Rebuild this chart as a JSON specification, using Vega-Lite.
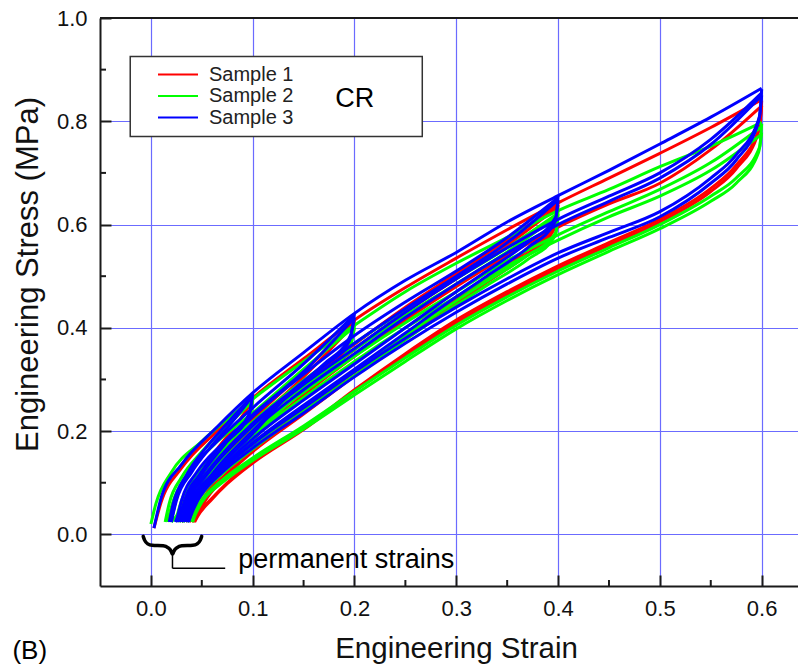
{
"$schema": "https://vega.github.io/schema/vega-lite/v6.json",
"width": 698, "height": 568,
"autosize": {"type": "none"},
"padding": {"left": 100, "top": 18, "right": 0, "bottom": 80},
"background": "white",
"config": {"view": {"stroke": null}, "font": "Liberation Sans"},
"layer": [
{
"data": {"values": [{}]},
"mark": {"type": "rect", "fill": "white", "stroke": "#333333", "strokeWidth": 1.5},
"encoding": {"x": {"datum": -0.0203}, "x2": {"datum": 0.2666}, "y": {"datum": 0.9255}, "y2": {"datum": 0.7706}}
},
{
"data": {"values": [
{"s":"Sample 1","c":"V","x":0.003,"y":0.012},{"s":"Sample 1","c":"V","x":0.01,"y":0.062},{"s":"Sample 1","c":"V","x":0.03,"y":0.128},{"s":"Sample 1","c":"V","x":0.065,"y":0.2},{"s":"Sample 1","c":"V","x":0.1,"y":0.264},{"s":"Sample 1","c":"V","x":0.15,"y":0.34},{"s":"Sample 1","c":"V","x":0.2,"y":0.415},{"s":"Sample 1","c":"V","x":0.25,"y":0.478},{"s":"Sample 1","c":"V","x":0.3,"y":0.535},{"s":"Sample 1","c":"V","x":0.35,"y":0.59},{"s":"Sample 1","c":"V","x":0.4,"y":0.642},{"s":"Sample 1","c":"V","x":0.45,"y":0.69},{"s":"Sample 1","c":"V","x":0.5,"y":0.738},{"s":"Sample 1","c":"V","x":0.55,"y":0.788},{"s":"Sample 1","c":"V","x":0.6,"y":0.842},
{"s":"Sample 1","c":"U1","x":0.1,"y":0.264},{"s":"Sample 1","c":"U1","x":0.097,"y":0.228},{"s":"Sample 1","c":"U1","x":0.08,"y":0.183},{"s":"Sample 1","c":"U1","x":0.06,"y":0.135},{"s":"Sample 1","c":"U1","x":0.045,"y":0.09},{"s":"Sample 1","c":"U1","x":0.035,"y":0.045},{"s":"Sample 1","c":"U1","x":0.03,"y":0.024},
{"s":"Sample 1","c":"R1","x":0.025,"y":0.024},{"s":"Sample 1","c":"R1","x":0.03,"y":0.06},{"s":"Sample 1","c":"R1","x":0.045,"y":0.11},{"s":"Sample 1","c":"R1","x":0.065,"y":0.165},{"s":"Sample 1","c":"R1","x":0.085,"y":0.215},{"s":"Sample 1","c":"R1","x":0.1,"y":0.26},
{"s":"Sample 1","c":"R2","x":0.028,"y":0.024},{"s":"Sample 1","c":"R2","x":0.033,"y":0.062},{"s":"Sample 1","c":"R2","x":0.05,"y":0.115},{"s":"Sample 1","c":"R2","x":0.075,"y":0.17},{"s":"Sample 1","c":"R2","x":0.1,"y":0.222},{"s":"Sample 1","c":"R2","x":0.15,"y":0.315},{"s":"Sample 1","c":"R2","x":0.2,"y":0.412},
{"s":"Sample 1","c":"R2b","x":0.03,"y":0.024},{"s":"Sample 1","c":"R2b","x":0.036,"y":0.06},{"s":"Sample 1","c":"R2b","x":0.052,"y":0.11},{"s":"Sample 1","c":"R2b","x":0.078,"y":0.165},{"s":"Sample 1","c":"R2b","x":0.1,"y":0.212},{"s":"Sample 1","c":"R2b","x":0.15,"y":0.305},{"s":"Sample 1","c":"R2b","x":0.2,"y":0.408},
{"s":"Sample 1","c":"U2","x":0.2,"y":0.415},{"s":"Sample 1","c":"U2","x":0.196,"y":0.372},{"s":"Sample 1","c":"U2","x":0.17,"y":0.32},{"s":"Sample 1","c":"U2","x":0.14,"y":0.265},{"s":"Sample 1","c":"U2","x":0.1,"y":0.182},{"s":"Sample 1","c":"U2","x":0.075,"y":0.13},{"s":"Sample 1","c":"U2","x":0.055,"y":0.08},{"s":"Sample 1","c":"U2","x":0.042,"y":0.04},{"s":"Sample 1","c":"U2","x":0.038,"y":0.024},
{"s":"Sample 1","c":"R4","x":0.034,"y":0.024},{"s":"Sample 1","c":"R4","x":0.04,"y":0.06},{"s":"Sample 1","c":"R4","x":0.055,"y":0.105},{"s":"Sample 1","c":"R4","x":0.1,"y":0.205},{"s":"Sample 1","c":"R4","x":0.15,"y":0.29},{"s":"Sample 1","c":"R4","x":0.2,"y":0.368},{"s":"Sample 1","c":"R4","x":0.25,"y":0.44},{"s":"Sample 1","c":"R4","x":0.3,"y":0.505},{"s":"Sample 1","c":"R4","x":0.35,"y":0.57},{"s":"Sample 1","c":"R4","x":0.4,"y":0.64},
{"s":"Sample 1","c":"U4","x":0.4,"y":0.645},{"s":"Sample 1","c":"U4","x":0.398,"y":0.6},{"s":"Sample 1","c":"U4","x":0.37,"y":0.55},{"s":"Sample 1","c":"U4","x":0.33,"y":0.495},{"s":"Sample 1","c":"U4","x":0.3,"y":0.455},{"s":"Sample 1","c":"U4","x":0.25,"y":0.388},{"s":"Sample 1","c":"U4","x":0.2,"y":0.315},{"s":"Sample 1","c":"U4","x":0.15,"y":0.24},{"s":"Sample 1","c":"U4","x":0.1,"y":0.165},{"s":"Sample 1","c":"U4","x":0.075,"y":0.12},{"s":"Sample 1","c":"U4","x":0.055,"y":0.072},{"s":"Sample 1","c":"U4","x":0.045,"y":0.04},{"s":"Sample 1","c":"U4","x":0.04,"y":0.024},
{"s":"Sample 1","c":"U4b","x":0.4,"y":0.638},{"s":"Sample 1","c":"U4b","x":0.397,"y":0.593},{"s":"Sample 1","c":"U4b","x":0.37,"y":0.543},{"s":"Sample 1","c":"U4b","x":0.33,"y":0.488},{"s":"Sample 1","c":"U4b","x":0.3,"y":0.448},{"s":"Sample 1","c":"U4b","x":0.25,"y":0.38},{"s":"Sample 1","c":"U4b","x":0.2,"y":0.307},{"s":"Sample 1","c":"U4b","x":0.15,"y":0.233},{"s":"Sample 1","c":"U4b","x":0.1,"y":0.16},{"s":"Sample 1","c":"U4b","x":0.075,"y":0.115},{"s":"Sample 1","c":"U4b","x":0.055,"y":0.07},{"s":"Sample 1","c":"U4b","x":0.046,"y":0.04},{"s":"Sample 1","c":"U4b","x":0.041,"y":0.024},
{"s":"Sample 1","c":"R4b","x":0.036,"y":0.024},{"s":"Sample 1","c":"R4b","x":0.042,"y":0.058},{"s":"Sample 1","c":"R4b","x":0.058,"y":0.102},{"s":"Sample 1","c":"R4b","x":0.1,"y":0.195},{"s":"Sample 1","c":"R4b","x":0.15,"y":0.28},{"s":"Sample 1","c":"R4b","x":0.2,"y":0.358},{"s":"Sample 1","c":"R4b","x":0.25,"y":0.43},{"s":"Sample 1","c":"R4b","x":0.3,"y":0.495},{"s":"Sample 1","c":"R4b","x":0.35,"y":0.56},{"s":"Sample 1","c":"R4b","x":0.4,"y":0.635},
{"s":"Sample 1","c":"R6","x":0.038,"y":0.024},{"s":"Sample 1","c":"R6","x":0.044,"y":0.058},{"s":"Sample 1","c":"R6","x":0.062,"y":0.1},{"s":"Sample 1","c":"R6","x":0.1,"y":0.185},{"s":"Sample 1","c":"R6","x":0.15,"y":0.27},{"s":"Sample 1","c":"R6","x":0.2,"y":0.345},{"s":"Sample 1","c":"R6","x":0.25,"y":0.415},{"s":"Sample 1","c":"R6","x":0.3,"y":0.48},{"s":"Sample 1","c":"R6","x":0.35,"y":0.54},{"s":"Sample 1","c":"R6","x":0.4,"y":0.595},{"s":"Sample 1","c":"R6","x":0.45,"y":0.64},{"s":"Sample 1","c":"R6","x":0.5,"y":0.68},{"s":"Sample 1","c":"R6","x":0.55,"y":0.745},{"s":"Sample 1","c":"R6","x":0.6,"y":0.83},
{"s":"Sample 1","c":"U6","x":0.6,"y":0.84},{"s":"Sample 1","c":"U6","x":0.598,"y":0.79},{"s":"Sample 1","c":"U6","x":0.575,"y":0.715},{"s":"Sample 1","c":"U6","x":0.55,"y":0.67},{"s":"Sample 1","c":"U6","x":0.5,"y":0.61},{"s":"Sample 1","c":"U6","x":0.45,"y":0.565},{"s":"Sample 1","c":"U6","x":0.4,"y":0.52},{"s":"Sample 1","c":"U6","x":0.35,"y":0.47},{"s":"Sample 1","c":"U6","x":0.3,"y":0.415},{"s":"Sample 1","c":"U6","x":0.25,"y":0.35},{"s":"Sample 1","c":"U6","x":0.2,"y":0.28},{"s":"Sample 1","c":"U6","x":0.15,"y":0.205},{"s":"Sample 1","c":"U6","x":0.1,"y":0.14},{"s":"Sample 1","c":"U6","x":0.075,"y":0.1},{"s":"Sample 1","c":"U6","x":0.06,"y":0.07},{"s":"Sample 1","c":"U6","x":0.045,"y":0.035},{"s":"Sample 1","c":"U6","x":0.042,"y":0.024},
{"s":"Sample 1","c":"U6b","x":0.6,"y":0.83},{"s":"Sample 1","c":"U6b","x":0.597,"y":0.78},{"s":"Sample 1","c":"U6b","x":0.575,"y":0.708},{"s":"Sample 1","c":"U6b","x":0.55,"y":0.664},{"s":"Sample 1","c":"U6b","x":0.5,"y":0.605},{"s":"Sample 1","c":"U6b","x":0.45,"y":0.56},{"s":"Sample 1","c":"U6b","x":0.4,"y":0.515},{"s":"Sample 1","c":"U6b","x":0.35,"y":0.465},{"s":"Sample 1","c":"U6b","x":0.3,"y":0.41},{"s":"Sample 1","c":"U6b","x":0.25,"y":0.346},{"s":"Sample 1","c":"U6b","x":0.2,"y":0.277},{"s":"Sample 1","c":"U6b","x":0.15,"y":0.203},{"s":"Sample 1","c":"U6b","x":0.1,"y":0.138},{"s":"Sample 1","c":"U6b","x":0.075,"y":0.098},{"s":"Sample 1","c":"U6b","x":0.06,"y":0.068},{"s":"Sample 1","c":"U6b","x":0.046,"y":0.035},{"s":"Sample 1","c":"U6b","x":0.043,"y":0.024},

{"s":"Sample 2","c":"V","x":0.0,"y":0.02},{"s":"Sample 2","c":"V","x":0.005,"y":0.06},{"s":"Sample 2","c":"V","x":0.02,"y":0.12},{"s":"Sample 2","c":"V","x":0.05,"y":0.18},{"s":"Sample 2","c":"V","x":0.1,"y":0.262},{"s":"Sample 2","c":"V","x":0.15,"y":0.335},{"s":"Sample 2","c":"V","x":0.2,"y":0.405},{"s":"Sample 2","c":"V","x":0.25,"y":0.47},{"s":"Sample 2","c":"V","x":0.3,"y":0.525},{"s":"Sample 2","c":"V","x":0.35,"y":0.575},{"s":"Sample 2","c":"V","x":0.4,"y":0.627},{"s":"Sample 2","c":"V","x":0.45,"y":0.668},{"s":"Sample 2","c":"V","x":0.5,"y":0.712},{"s":"Sample 2","c":"V","x":0.55,"y":0.752},{"s":"Sample 2","c":"V","x":0.6,"y":0.798},
{"s":"Sample 2","c":"U1","x":0.1,"y":0.262},{"s":"Sample 2","c":"U1","x":0.097,"y":0.225},{"s":"Sample 2","c":"U1","x":0.08,"y":0.185},{"s":"Sample 2","c":"U1","x":0.06,"y":0.14},{"s":"Sample 2","c":"U1","x":0.04,"y":0.085},{"s":"Sample 2","c":"U1","x":0.025,"y":0.035},{"s":"Sample 2","c":"U1","x":0.02,"y":0.024},
{"s":"Sample 2","c":"R1","x":0.014,"y":0.024},{"s":"Sample 2","c":"R1","x":0.018,"y":0.06},{"s":"Sample 2","c":"R1","x":0.03,"y":0.11},{"s":"Sample 2","c":"R1","x":0.05,"y":0.16},{"s":"Sample 2","c":"R1","x":0.075,"y":0.21},{"s":"Sample 2","c":"R1","x":0.1,"y":0.258},
{"s":"Sample 2","c":"R2","x":0.016,"y":0.024},{"s":"Sample 2","c":"R2","x":0.022,"y":0.065},{"s":"Sample 2","c":"R2","x":0.035,"y":0.115},{"s":"Sample 2","c":"R2","x":0.06,"y":0.17},{"s":"Sample 2","c":"R2","x":0.1,"y":0.235},{"s":"Sample 2","c":"R2","x":0.15,"y":0.32},{"s":"Sample 2","c":"R2","x":0.2,"y":0.402},
{"s":"Sample 2","c":"U2","x":0.2,"y":0.405},{"s":"Sample 2","c":"U2","x":0.196,"y":0.365},{"s":"Sample 2","c":"U2","x":0.17,"y":0.315},{"s":"Sample 2","c":"U2","x":0.14,"y":0.265},{"s":"Sample 2","c":"U2","x":0.1,"y":0.19},{"s":"Sample 2","c":"U2","x":0.07,"y":0.135},{"s":"Sample 2","c":"U2","x":0.05,"y":0.088},{"s":"Sample 2","c":"U2","x":0.035,"y":0.045},{"s":"Sample 2","c":"U2","x":0.028,"y":0.024},
{"s":"Sample 2","c":"U2b","x":0.2,"y":0.4},{"s":"Sample 2","c":"U2b","x":0.195,"y":0.36},{"s":"Sample 2","c":"U2b","x":0.165,"y":0.305},{"s":"Sample 2","c":"U2b","x":0.13,"y":0.245},{"s":"Sample 2","c":"U2b","x":0.1,"y":0.183},{"s":"Sample 2","c":"U2b","x":0.07,"y":0.128},{"s":"Sample 2","c":"U2b","x":0.05,"y":0.083},{"s":"Sample 2","c":"U2b","x":0.037,"y":0.045},{"s":"Sample 2","c":"U2b","x":0.031,"y":0.024},
{"s":"Sample 2","c":"R4","x":0.024,"y":0.024},{"s":"Sample 2","c":"R4","x":0.03,"y":0.065},{"s":"Sample 2","c":"R4","x":0.045,"y":0.115},{"s":"Sample 2","c":"R4","x":0.1,"y":0.218},{"s":"Sample 2","c":"R4","x":0.15,"y":0.298},{"s":"Sample 2","c":"R4","x":0.2,"y":0.37},{"s":"Sample 2","c":"R4","x":0.25,"y":0.435},{"s":"Sample 2","c":"R4","x":0.3,"y":0.495},{"s":"Sample 2","c":"R4","x":0.35,"y":0.555},{"s":"Sample 2","c":"R4","x":0.4,"y":0.622},
{"s":"Sample 2","c":"U4","x":0.4,"y":0.627},{"s":"Sample 2","c":"U4","x":0.398,"y":0.585},{"s":"Sample 2","c":"U4","x":0.37,"y":0.54},{"s":"Sample 2","c":"U4","x":0.33,"y":0.49},{"s":"Sample 2","c":"U4","x":0.3,"y":0.452},{"s":"Sample 2","c":"U4","x":0.25,"y":0.385},{"s":"Sample 2","c":"U4","x":0.2,"y":0.315},{"s":"Sample 2","c":"U4","x":0.15,"y":0.245},{"s":"Sample 2","c":"U4","x":0.1,"y":0.172},{"s":"Sample 2","c":"U4","x":0.07,"y":0.122},{"s":"Sample 2","c":"U4","x":0.05,"y":0.08},{"s":"Sample 2","c":"U4","x":0.038,"y":0.04},{"s":"Sample 2","c":"U4","x":0.034,"y":0.024},
{"s":"Sample 2","c":"U4b","x":0.4,"y":0.62},{"s":"Sample 2","c":"U4b","x":0.397,"y":0.578},{"s":"Sample 2","c":"U4b","x":0.37,"y":0.532},{"s":"Sample 2","c":"U4b","x":0.33,"y":0.482},{"s":"Sample 2","c":"U4b","x":0.3,"y":0.444},{"s":"Sample 2","c":"U4b","x":0.25,"y":0.377},{"s":"Sample 2","c":"U4b","x":0.2,"y":0.307},{"s":"Sample 2","c":"U4b","x":0.15,"y":0.238},{"s":"Sample 2","c":"U4b","x":0.1,"y":0.165},{"s":"Sample 2","c":"U4b","x":0.07,"y":0.117},{"s":"Sample 2","c":"U4b","x":0.05,"y":0.076},{"s":"Sample 2","c":"U4b","x":0.04,"y":0.04},{"s":"Sample 2","c":"U4b","x":0.036,"y":0.024},
{"s":"Sample 2","c":"R4b","x":0.027,"y":0.024},{"s":"Sample 2","c":"R4b","x":0.033,"y":0.062},{"s":"Sample 2","c":"R4b","x":0.05,"y":0.112},{"s":"Sample 2","c":"R4b","x":0.1,"y":0.208},{"s":"Sample 2","c":"R4b","x":0.15,"y":0.287},{"s":"Sample 2","c":"R4b","x":0.2,"y":0.358},{"s":"Sample 2","c":"R4b","x":0.25,"y":0.424},{"s":"Sample 2","c":"R4b","x":0.3,"y":0.485},{"s":"Sample 2","c":"R4b","x":0.35,"y":0.547},{"s":"Sample 2","c":"R4b","x":0.4,"y":0.618},
{"s":"Sample 2","c":"R6","x":0.03,"y":0.024},{"s":"Sample 2","c":"R6","x":0.036,"y":0.06},{"s":"Sample 2","c":"R6","x":0.055,"y":0.11},{"s":"Sample 2","c":"R6","x":0.1,"y":0.2},{"s":"Sample 2","c":"R6","x":0.15,"y":0.275},{"s":"Sample 2","c":"R6","x":0.2,"y":0.345},{"s":"Sample 2","c":"R6","x":0.25,"y":0.41},{"s":"Sample 2","c":"R6","x":0.3,"y":0.47},{"s":"Sample 2","c":"R6","x":0.35,"y":0.53},{"s":"Sample 2","c":"R6","x":0.4,"y":0.58},{"s":"Sample 2","c":"R6","x":0.45,"y":0.625},{"s":"Sample 2","c":"R6","x":0.5,"y":0.668},{"s":"Sample 2","c":"R6","x":0.55,"y":0.72},{"s":"Sample 2","c":"R6","x":0.6,"y":0.79},
{"s":"Sample 2","c":"U6","x":0.6,"y":0.795},{"s":"Sample 2","c":"U6","x":0.598,"y":0.75},{"s":"Sample 2","c":"U6","x":0.575,"y":0.69},{"s":"Sample 2","c":"U6","x":0.55,"y":0.655},{"s":"Sample 2","c":"U6","x":0.5,"y":0.6},{"s":"Sample 2","c":"U6","x":0.45,"y":0.555},{"s":"Sample 2","c":"U6","x":0.4,"y":0.51},{"s":"Sample 2","c":"U6","x":0.35,"y":0.46},{"s":"Sample 2","c":"U6","x":0.3,"y":0.405},{"s":"Sample 2","c":"U6","x":0.25,"y":0.342},{"s":"Sample 2","c":"U6","x":0.2,"y":0.277},{"s":"Sample 2","c":"U6","x":0.15,"y":0.21},{"s":"Sample 2","c":"U6","x":0.1,"y":0.148},{"s":"Sample 2","c":"U6","x":0.07,"y":0.105},{"s":"Sample 2","c":"U6","x":0.05,"y":0.065},{"s":"Sample 2","c":"U6","x":0.042,"y":0.035},{"s":"Sample 2","c":"U6","x":0.04,"y":0.024},
{"s":"Sample 2","c":"R6b","x":0.032,"y":0.024},{"s":"Sample 2","c":"R6b","x":0.038,"y":0.058},{"s":"Sample 2","c":"R6b","x":0.058,"y":0.108},{"s":"Sample 2","c":"R6b","x":0.1,"y":0.19},{"s":"Sample 2","c":"R6b","x":0.15,"y":0.265},{"s":"Sample 2","c":"R6b","x":0.2,"y":0.335},{"s":"Sample 2","c":"R6b","x":0.25,"y":0.4},{"s":"Sample 2","c":"R6b","x":0.3,"y":0.46},{"s":"Sample 2","c":"R6b","x":0.35,"y":0.52},{"s":"Sample 2","c":"R6b","x":0.4,"y":0.57},{"s":"Sample 2","c":"R6b","x":0.45,"y":0.615},{"s":"Sample 2","c":"R6b","x":0.5,"y":0.655},{"s":"Sample 2","c":"R6b","x":0.55,"y":0.705},{"s":"Sample 2","c":"R6b","x":0.6,"y":0.775},
{"s":"Sample 2","c":"U6b","x":0.6,"y":0.778},{"s":"Sample 2","c":"U6b","x":0.597,"y":0.74},{"s":"Sample 2","c":"U6b","x":0.575,"y":0.68},{"s":"Sample 2","c":"U6b","x":0.55,"y":0.645},{"s":"Sample 2","c":"U6b","x":0.5,"y":0.592},{"s":"Sample 2","c":"U6b","x":0.45,"y":0.548},{"s":"Sample 2","c":"U6b","x":0.4,"y":0.503},{"s":"Sample 2","c":"U6b","x":0.35,"y":0.453},{"s":"Sample 2","c":"U6b","x":0.3,"y":0.398},{"s":"Sample 2","c":"U6b","x":0.25,"y":0.335},{"s":"Sample 2","c":"U6b","x":0.2,"y":0.27},{"s":"Sample 2","c":"U6b","x":0.15,"y":0.204},{"s":"Sample 2","c":"U6b","x":0.1,"y":0.143},{"s":"Sample 2","c":"U6b","x":0.07,"y":0.1},{"s":"Sample 2","c":"U6b","x":0.05,"y":0.062},{"s":"Sample 2","c":"U6b","x":0.043,"y":0.035},{"s":"Sample 2","c":"U6b","x":0.041,"y":0.024},

{"s":"Sample 3","c":"V","x":0.003,"y":0.012},{"s":"Sample 3","c":"V","x":0.01,"y":0.07},{"s":"Sample 3","c":"V","x":0.03,"y":0.135},{"s":"Sample 3","c":"V","x":0.065,"y":0.208},{"s":"Sample 3","c":"V","x":0.1,"y":0.274},{"s":"Sample 3","c":"V","x":0.15,"y":0.352},{"s":"Sample 3","c":"V","x":0.2,"y":0.428},{"s":"Sample 3","c":"V","x":0.25,"y":0.492},{"s":"Sample 3","c":"V","x":0.3,"y":0.546},{"s":"Sample 3","c":"V","x":0.35,"y":0.605},{"s":"Sample 3","c":"V","x":0.4,"y":0.656},{"s":"Sample 3","c":"V","x":0.45,"y":0.705},{"s":"Sample 3","c":"V","x":0.5,"y":0.756},{"s":"Sample 3","c":"V","x":0.55,"y":0.808},{"s":"Sample 3","c":"V","x":0.6,"y":0.864},
{"s":"Sample 3","c":"U1","x":0.1,"y":0.274},{"s":"Sample 3","c":"U1","x":0.097,"y":0.235},{"s":"Sample 3","c":"U1","x":0.08,"y":0.195},{"s":"Sample 3","c":"U1","x":0.06,"y":0.15},{"s":"Sample 3","c":"U1","x":0.04,"y":0.09},{"s":"Sample 3","c":"U1","x":0.028,"y":0.04},{"s":"Sample 3","c":"U1","x":0.024,"y":0.024},
{"s":"Sample 3","c":"U1b","x":0.1,"y":0.27},{"s":"Sample 3","c":"U1b","x":0.096,"y":0.23},{"s":"Sample 3","c":"U1b","x":0.075,"y":0.18},{"s":"Sample 3","c":"U1b","x":0.055,"y":0.13},{"s":"Sample 3","c":"U1b","x":0.04,"y":0.085},{"s":"Sample 3","c":"U1b","x":0.03,"y":0.045},{"s":"Sample 3","c":"U1b","x":0.026,"y":0.024},
{"s":"Sample 3","c":"R1","x":0.018,"y":0.024},{"s":"Sample 3","c":"R1","x":0.022,"y":0.06},{"s":"Sample 3","c":"R1","x":0.035,"y":0.115},{"s":"Sample 3","c":"R1","x":0.055,"y":0.17},{"s":"Sample 3","c":"R1","x":0.075,"y":0.215},{"s":"Sample 3","c":"R1","x":0.1,"y":0.27},
{"s":"Sample 3","c":"R1b","x":0.02,"y":0.024},{"s":"Sample 3","c":"R1b","x":0.025,"y":0.065},{"s":"Sample 3","c":"R1b","x":0.04,"y":0.12},{"s":"Sample 3","c":"R1b","x":0.06,"y":0.172},{"s":"Sample 3","c":"R1b","x":0.08,"y":0.218},{"s":"Sample 3","c":"R1b","x":0.1,"y":0.268},
{"s":"Sample 3","c":"R2","x":0.02,"y":0.024},{"s":"Sample 3","c":"R2","x":0.025,"y":0.07},{"s":"Sample 3","c":"R2","x":0.04,"y":0.125},{"s":"Sample 3","c":"R2","x":0.065,"y":0.18},{"s":"Sample 3","c":"R2","x":0.1,"y":0.245},{"s":"Sample 3","c":"R2","x":0.15,"y":0.33},{"s":"Sample 3","c":"R2","x":0.2,"y":0.425},
{"s":"Sample 3","c":"R2b","x":0.025,"y":0.024},{"s":"Sample 3","c":"R2b","x":0.03,"y":0.065},{"s":"Sample 3","c":"R2b","x":0.045,"y":0.12},{"s":"Sample 3","c":"R2b","x":0.07,"y":0.175},{"s":"Sample 3","c":"R2b","x":0.1,"y":0.232},{"s":"Sample 3","c":"R2b","x":0.15,"y":0.315},{"s":"Sample 3","c":"R2b","x":0.2,"y":0.42},
{"s":"Sample 3","c":"U2","x":0.2,"y":0.428},{"s":"Sample 3","c":"U2","x":0.196,"y":0.385},{"s":"Sample 3","c":"U2","x":0.17,"y":0.33},{"s":"Sample 3","c":"U2","x":0.14,"y":0.28},{"s":"Sample 3","c":"U2","x":0.1,"y":0.2},{"s":"Sample 3","c":"U2","x":0.07,"y":0.14},{"s":"Sample 3","c":"U2","x":0.05,"y":0.09},{"s":"Sample 3","c":"U2","x":0.035,"y":0.045},{"s":"Sample 3","c":"U2","x":0.03,"y":0.024},
{"s":"Sample 3","c":"U2b","x":0.2,"y":0.42},{"s":"Sample 3","c":"U2b","x":0.195,"y":0.375},{"s":"Sample 3","c":"U2b","x":0.165,"y":0.32},{"s":"Sample 3","c":"U2b","x":0.13,"y":0.26},{"s":"Sample 3","c":"U2b","x":0.1,"y":0.195},{"s":"Sample 3","c":"U2b","x":0.07,"y":0.135},{"s":"Sample 3","c":"U2b","x":0.05,"y":0.085},{"s":"Sample 3","c":"U2b","x":0.036,"y":0.04},{"s":"Sample 3","c":"U2b","x":0.032,"y":0.024},
{"s":"Sample 3","c":"R4","x":0.028,"y":0.024},{"s":"Sample 3","c":"R4","x":0.033,"y":0.065},{"s":"Sample 3","c":"R4","x":0.05,"y":0.12},{"s":"Sample 3","c":"R4","x":0.1,"y":0.228},{"s":"Sample 3","c":"R4","x":0.15,"y":0.31},{"s":"Sample 3","c":"R4","x":0.2,"y":0.385},{"s":"Sample 3","c":"R4","x":0.25,"y":0.45},{"s":"Sample 3","c":"R4","x":0.3,"y":0.51},{"s":"Sample 3","c":"R4","x":0.35,"y":0.575},{"s":"Sample 3","c":"R4","x":0.4,"y":0.652},
{"s":"Sample 3","c":"U4","x":0.4,"y":0.656},{"s":"Sample 3","c":"U4","x":0.398,"y":0.615},{"s":"Sample 3","c":"U4","x":0.37,"y":0.565},{"s":"Sample 3","c":"U4","x":0.33,"y":0.51},{"s":"Sample 3","c":"U4","x":0.3,"y":0.47},{"s":"Sample 3","c":"U4","x":0.25,"y":0.4},{"s":"Sample 3","c":"U4","x":0.2,"y":0.33},{"s":"Sample 3","c":"U4","x":0.15,"y":0.26},{"s":"Sample 3","c":"U4","x":0.1,"y":0.185},{"s":"Sample 3","c":"U4","x":0.07,"y":0.13},{"s":"Sample 3","c":"U4","x":0.05,"y":0.085},{"s":"Sample 3","c":"U4","x":0.038,"y":0.04},{"s":"Sample 3","c":"U4","x":0.035,"y":0.024},
{"s":"Sample 3","c":"U4b","x":0.4,"y":0.648},{"s":"Sample 3","c":"U4b","x":0.397,"y":0.605},{"s":"Sample 3","c":"U4b","x":0.37,"y":0.555},{"s":"Sample 3","c":"U4b","x":0.33,"y":0.5},{"s":"Sample 3","c":"U4b","x":0.3,"y":0.46},{"s":"Sample 3","c":"U4b","x":0.25,"y":0.39},{"s":"Sample 3","c":"U4b","x":0.2,"y":0.32},{"s":"Sample 3","c":"U4b","x":0.15,"y":0.25},{"s":"Sample 3","c":"U4b","x":0.1,"y":0.177},{"s":"Sample 3","c":"U4b","x":0.07,"y":0.125},{"s":"Sample 3","c":"U4b","x":0.05,"y":0.08},{"s":"Sample 3","c":"U4b","x":0.04,"y":0.04},{"s":"Sample 3","c":"U4b","x":0.037,"y":0.024},
{"s":"Sample 3","c":"R4b","x":0.03,"y":0.024},{"s":"Sample 3","c":"R4b","x":0.036,"y":0.065},{"s":"Sample 3","c":"R4b","x":0.055,"y":0.12},{"s":"Sample 3","c":"R4b","x":0.1,"y":0.215},{"s":"Sample 3","c":"R4b","x":0.15,"y":0.295},{"s":"Sample 3","c":"R4b","x":0.2,"y":0.37},{"s":"Sample 3","c":"R4b","x":0.25,"y":0.437},{"s":"Sample 3","c":"R4b","x":0.3,"y":0.5},{"s":"Sample 3","c":"R4b","x":0.35,"y":0.565},{"s":"Sample 3","c":"R4b","x":0.4,"y":0.648},
{"s":"Sample 3","c":"R6","x":0.032,"y":0.024},{"s":"Sample 3","c":"R6","x":0.038,"y":0.065},{"s":"Sample 3","c":"R6","x":0.055,"y":0.115},{"s":"Sample 3","c":"R6","x":0.1,"y":0.21},{"s":"Sample 3","c":"R6","x":0.15,"y":0.29},{"s":"Sample 3","c":"R6","x":0.2,"y":0.36},{"s":"Sample 3","c":"R6","x":0.25,"y":0.43},{"s":"Sample 3","c":"R6","x":0.3,"y":0.495},{"s":"Sample 3","c":"R6","x":0.35,"y":0.555},{"s":"Sample 3","c":"R6","x":0.4,"y":0.61},{"s":"Sample 3","c":"R6","x":0.45,"y":0.655},{"s":"Sample 3","c":"R6","x":0.5,"y":0.7},{"s":"Sample 3","c":"R6","x":0.55,"y":0.765},{"s":"Sample 3","c":"R6","x":0.6,"y":0.855},
{"s":"Sample 3","c":"U6","x":0.6,"y":0.862},{"s":"Sample 3","c":"U6","x":0.598,"y":0.81},{"s":"Sample 3","c":"U6","x":0.575,"y":0.735},{"s":"Sample 3","c":"U6","x":0.55,"y":0.69},{"s":"Sample 3","c":"U6","x":0.5,"y":0.625},{"s":"Sample 3","c":"U6","x":0.45,"y":0.585},{"s":"Sample 3","c":"U6","x":0.4,"y":0.545},{"s":"Sample 3","c":"U6","x":0.35,"y":0.495},{"s":"Sample 3","c":"U6","x":0.3,"y":0.44},{"s":"Sample 3","c":"U6","x":0.25,"y":0.38},{"s":"Sample 3","c":"U6","x":0.2,"y":0.315},{"s":"Sample 3","c":"U6","x":0.15,"y":0.245},{"s":"Sample 3","c":"U6","x":0.1,"y":0.175},{"s":"Sample 3","c":"U6","x":0.07,"y":0.125},{"s":"Sample 3","c":"U6","x":0.05,"y":0.08},{"s":"Sample 3","c":"U6","x":0.04,"y":0.045},{"s":"Sample 3","c":"U6","x":0.036,"y":0.024},
{"s":"Sample 3","c":"R6b","x":0.034,"y":0.024},{"s":"Sample 3","c":"R6b","x":0.04,"y":0.065},{"s":"Sample 3","c":"R6b","x":0.06,"y":0.115},{"s":"Sample 3","c":"R6b","x":0.1,"y":0.2},{"s":"Sample 3","c":"R6b","x":0.15,"y":0.28},{"s":"Sample 3","c":"R6b","x":0.2,"y":0.35},{"s":"Sample 3","c":"R6b","x":0.25,"y":0.42},{"s":"Sample 3","c":"R6b","x":0.3,"y":0.485},{"s":"Sample 3","c":"R6b","x":0.35,"y":0.545},{"s":"Sample 3","c":"R6b","x":0.4,"y":0.6},{"s":"Sample 3","c":"R6b","x":0.45,"y":0.645},{"s":"Sample 3","c":"R6b","x":0.5,"y":0.69},{"s":"Sample 3","c":"R6b","x":0.55,"y":0.755},{"s":"Sample 3","c":"R6b","x":0.6,"y":0.85},
{"s":"Sample 3","c":"U6b","x":0.6,"y":0.85},{"s":"Sample 3","c":"U6b","x":0.597,"y":0.8},{"s":"Sample 3","c":"U6b","x":0.575,"y":0.725},{"s":"Sample 3","c":"U6b","x":0.55,"y":0.68},{"s":"Sample 3","c":"U6b","x":0.5,"y":0.615},{"s":"Sample 3","c":"U6b","x":0.45,"y":0.575},{"s":"Sample 3","c":"U6b","x":0.4,"y":0.535},{"s":"Sample 3","c":"U6b","x":0.35,"y":0.485},{"s":"Sample 3","c":"U6b","x":0.3,"y":0.43},{"s":"Sample 3","c":"U6b","x":0.25,"y":0.37},{"s":"Sample 3","c":"U6b","x":0.2,"y":0.305},{"s":"Sample 3","c":"U6b","x":0.15,"y":0.235},{"s":"Sample 3","c":"U6b","x":0.1,"y":0.167},{"s":"Sample 3","c":"U6b","x":0.07,"y":0.12},{"s":"Sample 3","c":"U6b","x":0.05,"y":0.078},{"s":"Sample 3","c":"U6b","x":0.04,"y":0.045},{"s":"Sample 3","c":"U6b","x":0.037,"y":0.024}
]},
"mark": {"type": "line", "strokeWidth": 3, "clip": true, "interpolate": "monotone"},
"encoding": {
"x": {"field": "x", "type": "quantitative",
 "scale": {"domain": [-0.05, 0.6357], "nice": false, "zero": false},
 "axis": {"title": "Engineering Strain", "values": [0, 0.1, 0.2, 0.3, 0.4, 0.5, 0.6], "format": ".1f",
  "grid": true, "gridColor": "#6b6bff", "gridWidth": 1.2, "gridOpacity": 1,
  "domainColor": "#1a1a1a", "domainWidth": 2, "tickColor": "#1a1a1a", "tickWidth": 2, "tickSize": -11,
  "labelPadding": 23, "labelFontSize": 22, "labelFont": "Liberation Sans", "labelColor": "#111111", "labelFlush": false,
  "titleFont": "Liberation Sans", "titleFontSize": 29.5, "titleFontWeight": "normal", "titleColor": "#111111",
  "titleX": 356, "titleY": 71, "titleAlign": "center", "titleBaseline": "alphabetic"}},
"y": {"field": "y", "type": "quantitative",
 "scale": {"domain": [-0.1, 1.0], "nice": false, "zero": false},
 "axis": {"title": "Engineering Stress (MPa)", "values": [0, 0.2, 0.4, 0.6, 0.8, 1.0], "format": ".1f",
  "grid": true, "gridColor": "#6b6bff", "gridWidth": 1.2, "gridOpacity": 1,
  "domainColor": "#1a1a1a", "domainWidth": 2, "tickColor": "#1a1a1a", "tickWidth": 2, "tickSize": -11,
  "labelPadding": 24, "labelFontSize": 22, "labelFont": "Liberation Sans", "labelColor": "#111111", "labelFlush": false,
  "titleFont": "Liberation Sans", "titleFontSize": 31, "titleFontWeight": "normal", "titleColor": "#111111",
  "titleX": -63, "titleY": 256, "titleAlign": "center", "titleBaseline": "alphabetic"}},
"color": {"field": "s", "type": "nominal",
 "scale": {"domain": ["Sample 1", "Sample 2", "Sample 3"], "range": ["#ff0000", "#00ff00", "#0000ff"]},
 "legend": {"title": null, "orient": "none", "legendX": 57, "legendY": 46, "symbolType": "stroke", "symbolSize": 1600,
  "symbolStrokeWidth": 2, "labelFontSize": 20, "labelFont": "Liberation Sans", "labelColor": "#222222",
  "clipHeight": 21, "rowPadding": 0.5, "labelOffset": 10, "padding": 0}},
"detail": {"field": "c"}
}
},
{
"data": {"values": [{"v": 0.05}, {"v": 0.15}, {"v": 0.25}, {"v": 0.35}, {"v": 0.45}, {"v": 0.55}]},
"mark": {"type": "rule", "color": "#1a1a1a", "strokeWidth": 2},
"encoding": {"x": {"field": "v", "type": "quantitative", "title": "Engineering Strain"}, "y": {"datum": -0.1}, "y2": {"datum": -0.0884}}
},
{
"data": {"values": [{"w": 0.1}, {"w": 0.3}, {"w": 0.5}, {"w": 0.7}, {"w": 0.9}]},
"mark": {"type": "rule", "color": "#1a1a1a", "strokeWidth": 2},
"encoding": {"y": {"field": "w", "type": "quantitative", "title": "Engineering Stress (MPa)"}, "x": {"datum": -0.05}, "x2": {"datum": -0.0441}}
},
{
"data": {"values": [{}]},
"mark": {"type": "rule", "color": "#1a1a1a", "strokeWidth": 2},
"encoding": {"y": {"datum": 1.0}}
},
{
"data": {"values": [
{"bx": -0.00756, "by": -0.00387}, {"bx": -0.00609, "by": -0.01162}, {"bx": -0.00314, "by": -0.01839}, {"bx": 0.00128, "by": -0.0213},
{"bx": 0.01208, "by": -0.02227}, {"bx": 0.01699, "by": -0.02614}, {"bx": 0.01994, "by": -0.03291}, {"bx": 0.02122, "by": -0.03872},
{"bx": 0.0225, "by": -0.03291}, {"bx": 0.02544, "by": -0.02614}, {"bx": 0.03035, "by": -0.02227}, {"bx": 0.04116, "by": -0.0213},
{"bx": 0.04548, "by": -0.01839}, {"bx": 0.04843, "by": -0.01162}, {"bx": 0.0499, "by": -0.00387}
]},
"mark": {"type": "line", "color": "black", "strokeWidth": 3.5, "interpolate": "monotone", "strokeCap": "round"},
"encoding": {"x": {"field": "bx", "type": "quantitative", "title": "Engineering Strain"}, "y": {"field": "by", "type": "quantitative", "title": "Engineering Stress (MPa)"}}
},
{
"data": {"values": [{}]},
"mark": {"type": "rule", "color": "black", "strokeWidth": 1.5},
"encoding": {"x": {"datum": 0.0212}, "y": {"datum": -0.039}, "y2": {"datum": -0.0658}}
},
{
"data": {"values": [{}]},
"mark": {"type": "rule", "color": "black", "strokeWidth": 1.5},
"encoding": {"x": {"datum": 0.0212}, "x2": {"datum": 0.073}, "y": {"datum": -0.0658}}
},
{
"data": {"values": [{}]},
"mark": {"type": "text", "text": "permanent strains", "font": "Liberation Sans", "fontSize": 27, "align": "left", "baseline": "alphabetic", "color": "black"},
"encoding": {"x": {"datum": 0.0858}, "y": {"datum": -0.0658}}
},
{
"data": {"values": [{}]},
"mark": {"type": "text", "text": "CR", "font": "Liberation Sans", "fontSize": 27, "align": "left", "baseline": "alphabetic", "color": "black"},
"encoding": {"x": {"datum": 0.181}, "y": {"datum": 0.827}}
},
{
"data": {"values": [{}]},
"mark": {"type": "text", "text": "(B)", "font": "Liberation Sans", "fontSize": 26, "align": "left", "baseline": "alphabetic", "color": "black"},
"encoding": {"x": {"datum": -0.136}, "y": {"datum": -0.242}}
}
]
}
